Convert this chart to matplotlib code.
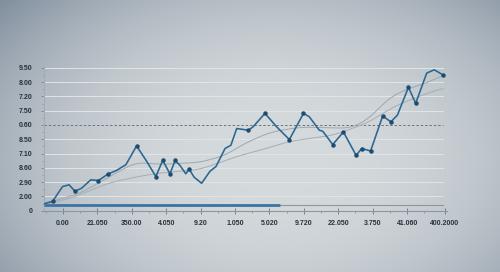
import numpy as np
import matplotlib
matplotlib.use("Agg")
import matplotlib.pyplot as plt
from matplotlib.ticker import FixedLocator

# main series (x in tick units, y in label-slot units)
main_x = [-0.57, -0.30, -0.01, 0.18, 0.35, 0.54, 0.81, 1.03, 1.32, 1.56, 1.83, 2.14,
          2.43, 2.70, 2.90, 3.11, 3.26, 3.40, 3.57, 3.67, 3.81, 4.03, 4.27, 4.45,
          4.71, 4.88, 5.05, 5.39, 5.53, 5.87, 6.21, 6.58, 6.99, 7.16, 7.45, 7.55,
          7.84, 8.15, 8.52, 8.68, 8.94, 9.29, 9.53, 9.72, 10.04, 10.25, 10.57,
          10.79, 11.04]
main_y = [0.47, 0.65, 1.69, 1.81, 1.36, 1.57, 2.16, 2.11, 2.58, 2.82, 3.22, 4.53,
          3.47, 2.39, 3.52, 2.58, 3.52, 3.17, 2.58, 2.91, 2.35, 1.92, 2.75, 3.10,
          4.35, 4.58, 5.75, 5.63, 5.88, 6.81, 5.87, 4.98, 6.81, 6.57, 5.63, 5.56,
          4.63, 5.51, 3.87, 4.35, 4.18, 6.62, 6.22, 6.69, 8.64, 7.51, 9.63,
          9.86, 9.51]
marker_idx = [1, 4, 7, 8, 11, 13, 14, 15, 16, 19, 27, 29, 31, 32, 36, 37, 38, 39,
              40, 41, 42, 44, 45, 48]

upper_x = [-0.55, 0.49, 1.57, 2.12, 2.82, 3.98, 4.71, 5.29, 6.02, 6.89, 8.34,
           8.84, 9.51, 10.09, 10.58, 11.05]
upper_y = [0.49, 1.20, 2.68, 3.38, 3.24, 3.38, 3.87, 4.72, 5.49, 5.85, 5.77,
           6.34, 7.96, 8.59, 8.94, 9.51]
lower_x = [-0.55, 0.29, 1.28, 2.03, 2.73, 3.98, 5.15, 5.73, 6.60, 7.85, 8.84,
           9.59, 10.29, 11.05]
lower_y = [0.42, 0.92, 1.90, 2.32, 2.61, 2.89, 3.87, 4.23, 4.86, 5.28, 6.13,
           7.25, 7.96, 8.59]

base_level = 0.39
base_split = 6.31
dash_level = 6.0

x_ticks = [0, 1, 2, 3, 4, 5, 6, 7, 8, 9, 10, 11.1]
x_labels = ["0.00", "21.050", "350.00", "4.050", "9.20", "1.050", "5.020",
            "9.720", "22.050", "3.750", "41.060", "400.2000"]
y_ticks = list(range(11))
y_labels = ["0", "2.00", "2.90", "8.60", "7.10", "8.50", "0.60", "7.50",
            "7.20", "8.00", "9.50"]


def smooth(xs, ys, n=300):
    xs = np.asarray(xs)
    ys = np.asarray(ys)
    t = np.linspace(xs[0], xs[-1], n)
    y = np.interp(t, xs, ys)
    k = np.ones(15) / 15
    yp = np.pad(y, 7, mode="edge")
    return t, np.convolve(yp, k, mode="valid")


fig = plt.figure(figsize=(5.0, 2.72), dpi=100)

# background gradient, light middle, darker blue-grey corners
bg = fig.add_axes([0, 0, 1, 1], zorder=-10)
gx, gy = np.meshgrid(np.linspace(0, 1, 500), np.linspace(0, 1, 272))
d = np.sqrt(((gx - 0.55) / 0.78) ** 2 + ((gy - 0.58) / 0.95) ** 2)
d = np.clip(d, 0, 1) ** 2.4
light = np.array([0.835, 0.855, 0.865])
dark = np.array([0.44, 0.50, 0.57])
img = light[None, None, :] * (1 - d[..., None]) + dark[None, None, :] * d[..., None]
bg.imshow(img, aspect="auto", extent=[0, 1, 0, 1], origin="upper")
bg.axis("off")

ax = fig.add_axes([0.088, 0.2254, 0.806, 0.528])
ax.set_facecolor("none")
ax.set_xlim(-0.55, 11.16)
ax.set_ylim(0, 10.05)

for v in y_ticks[1:]:
    if v == dash_level:
        continue
    ax.plot([-0.55, 11.05], [v, v], color="#e1e5e7", lw=0.7, zorder=1)
ax.plot([-0.55, 11.05], [dash_level, dash_level], color="#6d747a", lw=0.7,
        ls=(0, (2.5, 2)), zorder=2)

tx, ty = smooth(upper_x, upper_y)
ax.plot(tx, ty, color="#9ea8b0", lw=0.7, zorder=2)
tx, ty = smooth(lower_x, lower_y)
ax.plot(tx, ty, color="#a5aeb5", lw=0.7, zorder=2)

ax.plot([-0.55, base_split], [base_level, base_level], color="#3b73a3", lw=2.0,
        solid_capstyle="butt", zorder=3)
ax.plot([base_split, 11.05], [base_level, base_level], color="#8e979e", lw=0.8,
        zorder=3)

ax.plot(main_x, main_y, color="#2a6690", lw=1.15, zorder=4)
ax.plot([main_x[i] for i in marker_idx], [main_y[i] for i in marker_idx], "o",
        color="#1d4c70", ms=2.2, zorder=5)

for s in ["top", "right"]:
    ax.spines[s].set_visible(False)
ax.spines["left"].set_color("#a4adb4")
ax.spines["bottom"].set_color("#8e979e")
ax.spines["left"].set_linewidth(0.8)
ax.spines["bottom"].set_linewidth(0.8)

ax.set_xticks(x_ticks)
ax.set_xticklabels(x_labels)
ax.xaxis.set_minor_locator(FixedLocator([x + 0.5 for x in range(-1, 11)]))
ax.set_yticks(y_ticks)
ax.set_yticklabels(y_labels)
ax.yaxis.set_minor_locator(FixedLocator([y + 0.5 for y in range(10)]))

ax.tick_params(axis="x", which="major", direction="inout", length=4, width=0.6,
               color="#6d757c", pad=5, labelsize=5, labelcolor="#26323d")
ax.tick_params(axis="x", which="minor", direction="out", length=1.5, width=0.5,
               color="#7d868d")
ax.tick_params(axis="y", which="major", direction="out", length=2.5, width=0.6,
               color="#7d868d", pad=6, labelsize=5, labelcolor="#26323d")
ax.tick_params(axis="y", which="minor", direction="out", length=1.5, width=0.5,
               color="#8d969d")
for lab in ax.get_xticklabels() + ax.get_yticklabels():
    lab.set_fontfamily("Liberation Sans")
    lab.set_fontweight("bold")

fig.savefig("out.png", dpi=100)
